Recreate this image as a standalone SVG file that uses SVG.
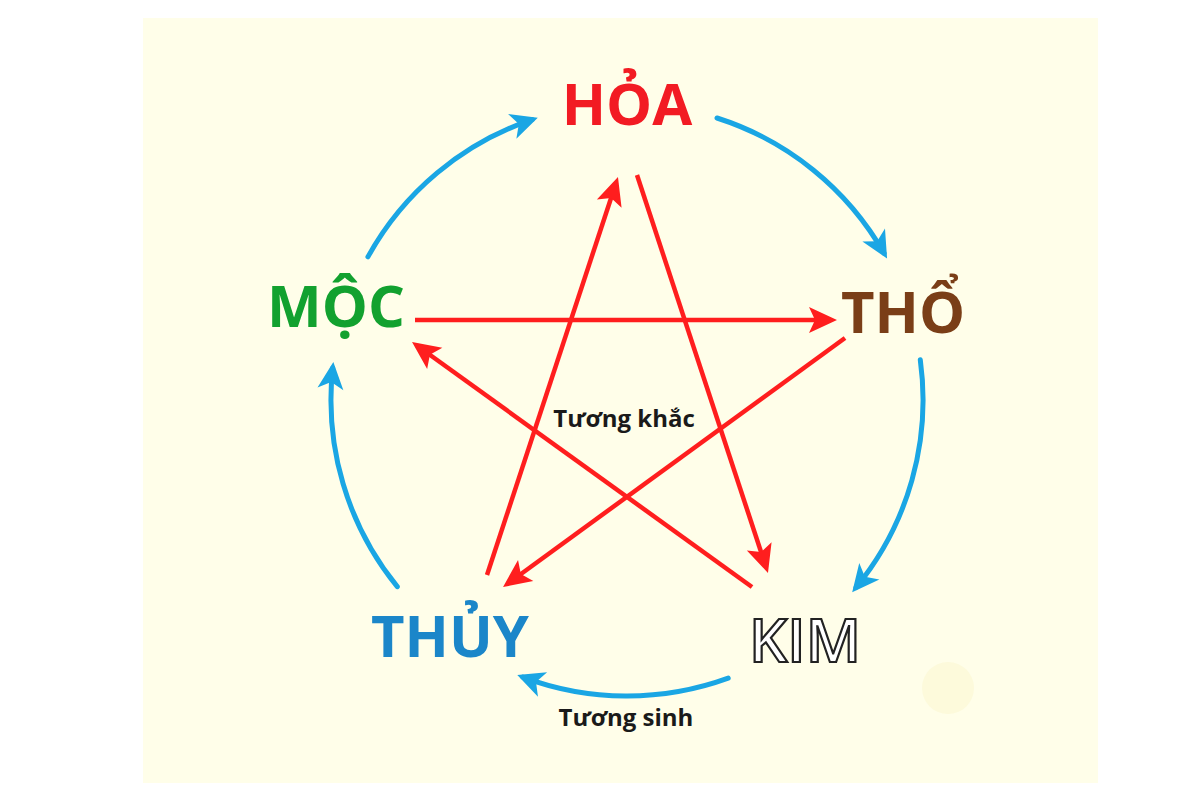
<svg xmlns="http://www.w3.org/2000/svg" width="1203" height="800" viewBox="0 0 1203 800">
<style>
.lbl{font-family:"Open Sans","Liberation Sans",sans-serif;font-weight:bold;font-size:58px;text-anchor:middle}
.cap{font-family:"Open Sans","Liberation Sans",sans-serif;font-weight:bold;font-size:24px;fill:#1a1a1a;text-anchor:middle}
.sinh{fill:none;stroke:#1AA6E4;stroke-width:5;stroke-linecap:round}
.khac{fill:none;stroke:#FF1E1E;stroke-width:4.5;stroke-linecap:butt}
</style>
<defs>
<marker id="ab" markerUnits="userSpaceOnUse" markerWidth="32" markerHeight="30" viewBox="-30 -15 32 30" refX="-6" refY="0" orient="auto">
<path d="M0,0 L-27,-13 L-20,0 L-27,13 Z" fill="#1AA6E4"/>
</marker>
<marker id="ar" markerUnits="userSpaceOnUse" markerWidth="32" markerHeight="30" viewBox="-30 -15 32 30" refX="-6" refY="0" orient="auto">
<path d="M0,0 L-28,-13 L-22,0 L-28,13 Z" fill="#FF1E1E"/>
</marker>
</defs>
<rect width="1203" height="800" fill="#ffffff"/>
<rect x="143" y="18" width="955" height="765" fill="#FFFEE9"/>
<circle cx="948" cy="688" r="26" fill="#FDFADB"/>
<g id="connectors">
<path class="sinh" marker-end="url(#ab)" d="M367.9,256.9 A296,296 0 0 1 532.1,119.6"/>
<path class="sinh" marker-end="url(#ab)" d="M717,118 A296,296 0 0 1 884.1,253.3"/>
<path class="sinh" marker-end="url(#ab)" d="M920.3,359.8 A296,296 0 0 1 856,587.5"/>
<path class="sinh" marker-end="url(#ab)" d="M728.2,678.2 A296,296 0 0 1 522.9,677.1"/>
<path class="sinh" marker-end="url(#ab)" d="M397.3,586.7 A296,296 0 0 1 332.7,368"/>
<path class="khac" marker-end="url(#ar)" d="M637,175 L766.1,567.3"/>
<path class="khac" marker-end="url(#ar)" d="M487,575 L616.1,182.7"/>
<path class="khac" marker-end="url(#ar)" d="M415,320 L831,320"/>
<path class="khac" marker-end="url(#ar)" d="M845,338 L507.9,583.5"/>
<path class="khac" marker-end="url(#ar)" d="M752,587 L416.9,345.5"/>
</g>
<g id="hoa"><text class="lbl" x="627" y="125" fill="#F21B23">HỎA</text></g>
<g id="moc"><text class="lbl" x="336" y="327" fill="#12A12F">MỘC</text></g>
<g id="tho"><text class="lbl" x="903" y="333" fill="#7A3E17">THỔ</text></g>
<g id="thuy"><text class="lbl" x="450" y="657" fill="#1B86C9">THỦY</text></g>
<g id="kim"><text x="805" y="662" font-family="Open Sans, Liberation Sans, sans-serif" font-size="60" font-weight="600" text-anchor="middle" fill="#ffffff" stroke="#222222" stroke-width="2.2">KIM</text></g>
<g id="tuong-khac"><text class="cap" x="624" y="427">Tương khắc</text></g>
<g id="tuong-sinh"><text class="cap" x="626" y="726">Tương sinh</text></g>
</svg>
